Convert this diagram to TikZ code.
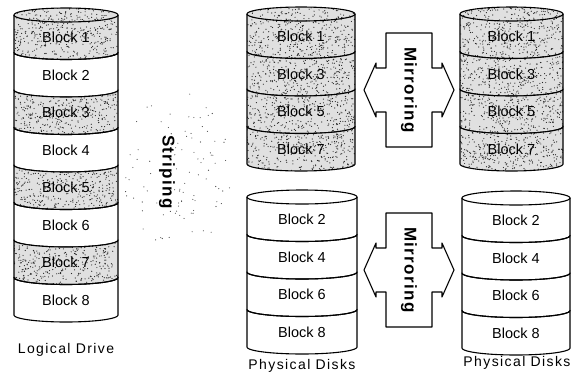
\documentclass[tikz,border=0pt]{standalone}
\usepackage{fontspec}
\setmainfont{Liberation Sans}
\newfontfamily\captionfont[LetterSpace=10]{Liberation Sans}
\newfontfamily\tagfont[LetterSpace=8]{Liberation Sans}

% geometry shared by all disk stacks
\def\bandh{37.5}
\def\dkRy{7}

% outline of the top band (with the back rim) and of any lower band
\def\firstband{plot[domain=180:0,samples=41] ({\dkCx+\dkRx*cos(\x)},{\dkYb+\dkRy*sin(\x)})
  -- plot[domain=0:-180,samples=41] ({\dkCx+\dkRx*cos(\x)},{\dkYa+\dkRy*sin(\x)}) -- cycle}
\def\otherband{plot[domain=180:0,samples=41] ({\dkCx+\dkRx*cos(\x)},{\dkYb+\dkRy*sin(\x)})
  -- plot[domain=0:180,samples=41] ({\dkCx+\dkRx*cos(\x)},{\dkYa+\dkRy*sin(\x)}) -- cycle}
\def\rimarc{plot[domain=180:0,samples=41] ({\dkCx+\dkRx*cos(\x)},{\dkYa+\dkRy*sin(\x)})}

% #1 name, #2 left x, #3 right x, #4 y of the top rim, #5 list of label/tone
\newcommand\diskstack[5]{%
  \pgfmathsetmacro\dkCx{(#2+#3)/2}
  \pgfmathsetmacro\dkRx{(#3-#2)/2}
  \foreach \lab/\tone [count=\k from 0] in {#5}{
    \pgfmathsetmacro\dkYa{#4+\k*\bandh}
    \pgfmathsetmacro\dkYb{#4+(\k+1)*\bandh}
    \ifnum\k=0 \let\bandshape\firstband \else \let\bandshape\otherband \fi
    \ifnum\tone=1
      \fill[black!12] \bandshape;
      \begin{scope}
        \clip \bandshape;
        \foreach \d in {1,...,430}{
          \fill[black!85] ({#2+rnd*(#3-#2)},{\dkYa-\dkRy+rnd*(\bandh+2*\dkRy)}) circle (0.6);
        }
      \end{scope}
    \fi
    \draw[rim] \bandshape;
    \ifnum\k=0 \draw[rim] \rimarc; \fi
    \node[blocktext] (#1-\k) at (\dkCx,{(\dkYa+\dkYb)/2+4}) {\lab};
  }
}

\begin{document}
\begin{tikzpicture}[x=1pt,y=-1pt,
  rim/.style={line width=1.1pt,line join=round},
  blocktext/.style={font=\fontsize{14.5}{16}\selectfont,inner sep=0pt},
  caption/.style={font=\captionfont\fontsize{14}{16}\selectfont,inner sep=0pt},
  tag/.style={font=\tagfont\bfseries\fontsize{17}{19}\selectfont,inner sep=0pt,rotate=-90},
  mirror/.style={rim,fill=white}]
\useasboundingbox (0,0) rectangle (571,376);
\fill[white] (0,0) rectangle (571,376);
\pgfmathsetseed{11}

% logical drive
\diskstack{ld}{14}{118}{15}{Block 1/1,Block 2/0,Block 3/1,Block 4/0,Block 5/1,Block 6/0,Block 7/1,Block 8/0}
\node[caption] (ldcap) at (66,350) {Logical Drive};

% physical disks, odd blocks
\diskstack{pa}{247}{355}{14}{Block 1/1,Block 3/1,Block 5/1,Block 7/1}
\diskstack{pb}{460}{563}{14}{Block 1/1,Block 3/1,Block 5/1,Block 7/1}

% physical disks, even blocks
\diskstack{pc}{247}{357}{197}{Block 2/0,Block 4/0,Block 6/0,Block 8/0}
\diskstack{pd}{462}{570}{198}{Block 2/0,Block 4/0,Block 6/0,Block 8/0}
\node[caption] (pccap) at (302,366) {Physical Disks};
\node[caption] (pdcap) at (517,363) {Physical Disks};

% striping: sparse speckle cloud with its label
\foreach \d in {1,...,95}{
  \pgfmathsetmacro\ang{rnd*360}
  \pgfmathsetmacro\rad{sqrt(rnd)}
  \fill[black!75] ({178+55*\rad*cos(\ang)},{172+80*\rad*sin(\ang)}) circle (0.55);
}
\node[tag] (strip) at (167,172) {Striping};

% mirroring double arrows
\foreach \sy/\nm in {0/mtop,180/mbot}{
  \begin{scope}[shift={(0,\sy)}]
    \draw[mirror] (386,33) -- (432,33) -- (432,68) -- (442,68) -- (442,63) -- (454,90)
      -- (442,117) -- (442,112) -- (432,112) -- (432,147) -- (386,147) -- (386,112)
      -- (376,112) -- (376,117) -- (364,90) -- (376,63) -- (376,68) -- (386,68) -- cycle;
    \node[tag] (\nm) at (409,90) {Mirroring};
  \end{scope}
}
\end{tikzpicture}
\end{document}
